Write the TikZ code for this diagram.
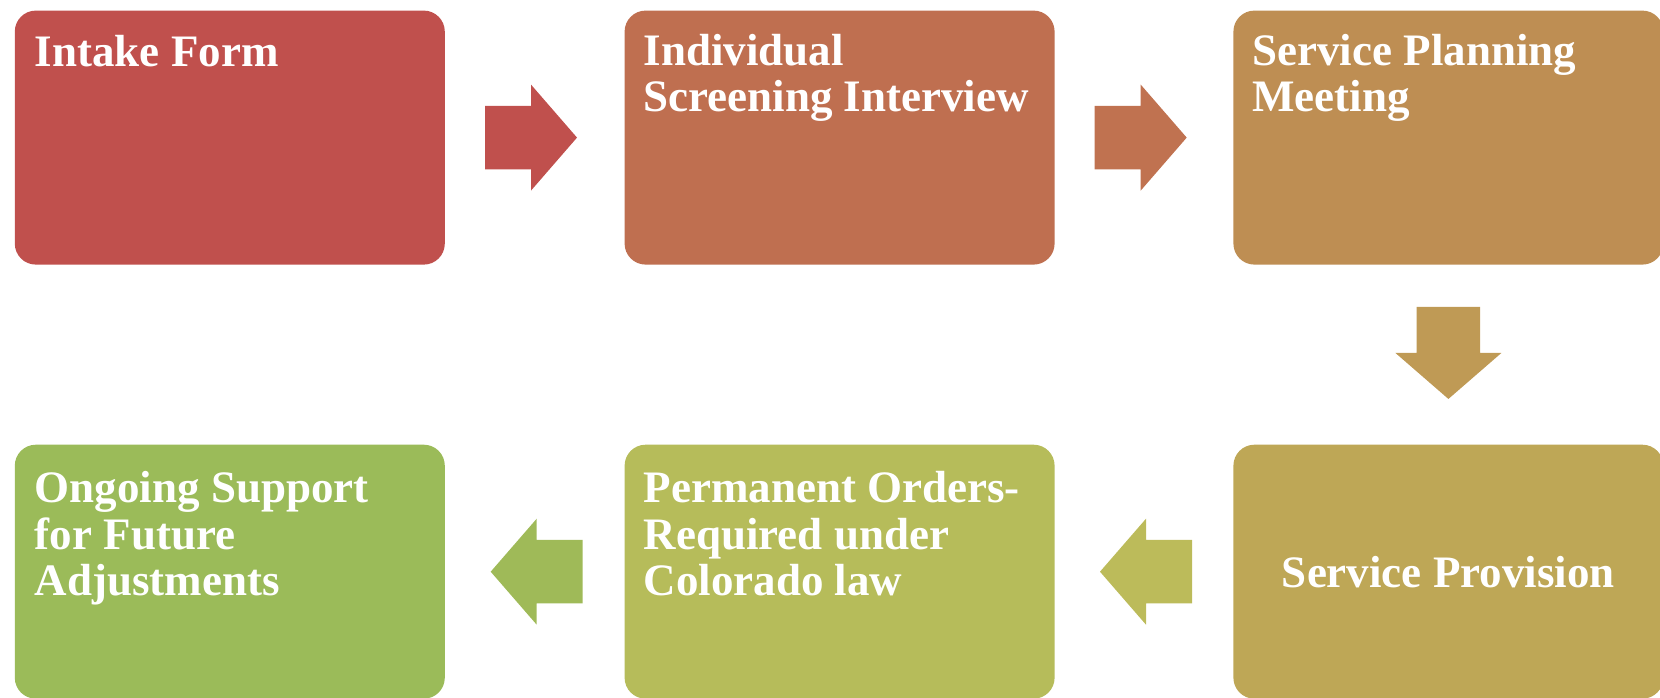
\documentclass[tikz,border=0pt]{standalone}
\usepackage{fontspec}
\setmainfont{Liberation Serif}
\usetikzlibrary{calc}

% step colours, red through ochre to green
\definecolor{c1}{HTML}{C0504D}
\definecolor{c2}{HTML}{BF6F50}
\definecolor{c3}{HTML}{BE8E53}
\definecolor{c4}{HTML}{BEA756}
\definecolor{c5}{HTML}{B6BC5A}
\definecolor{c6}{HTML}{9BBB59}
\definecolor{a1}{HTML}{C0504D}
\definecolor{a2}{HTML}{C07250}
\definecolor{a3}{HTML}{BF9A55}
\definecolor{a4}{HTML}{BCBB5A}
\definecolor{a5}{HTML}{9FBA58}

\tikzset{
  stepbox/.style={rectangle, rounded corners=21pt, minimum width=430pt,
    minimum height=254pt, inner sep=0pt, draw=none},
  steptext/.style={inner sep=0pt, text=white,
    font=\fontsize{45}{46.5}\selectfont\bfseries},
  % block arrow pointing right, centred on its own origin
  blockarrow/.pic={
    \fill[pic actions] (-46,-31.75) -- (0,-31.75) -- (0,-53) -- (46,0)
      -- (0,53) -- (0,31.75) -- (-46,31.75) -- cycle;
  }
}

\newcommand{\steplines}[1]{\parbox[t]{400pt}{\raggedright #1}}

\begin{document}
\begin{tikzpicture}[x=1pt, y=-1pt]
\useasboundingbox (0,0) rectangle (1660,698);
\clip (0,0) rectangle (1660,698);

% boxes
\node[stepbox, fill=c1] (b1) at (229.8,137.6) {};
\node[stepbox, fill=c2] (b2) at (839.6,137.6) {};
\node[stepbox, fill=c3] (b3) at (1448.4,137.6) {};
\node[stepbox, fill=c4] (b4) at (1448.4,571.7) {};
\node[stepbox, fill=c5] (b5) at (839.6,571.7) {};
\node[stepbox, fill=c6] (b6) at (229.8,571.7) {};

% labels
\node[steptext, anchor=base west] (t1) at ($(b1.north west)+(20,56)$)
  {\steplines{Intake Form}};
\node[steptext, anchor=base west] (t2) at ($(b2.north west)+(19,55)$)
  {\steplines{Individual\\Screening Interview}};
\node[steptext, anchor=base west] (t3) at ($(b3.north west)+(19,55)$)
  {\steplines{Service Planning\\Meeting}};
\node[steptext, anchor=base] (t4) at ($(b4.center)+(0,15.5)$)
  {Service Provision};
\node[steptext, anchor=base west] (t5) at ($(b5.north west)+(19,58)$)
  {\steplines{Permanent Orders-\\Required under\\Colorado law}};
\node[steptext, anchor=base west] (t6) at ($(b6.north west)+(20,58)$)
  {\steplines{Ongoing Support\\for Future\\Adjustments}};

% block arrows between consecutive steps
\coordinate (m12) at ($($(b1.east)!0.5!(b2.west)$)+(-3.7,0)$);
\coordinate (m23) at ($($(b2.east)!0.5!(b3.west)$)+(-3.3,0)$);
\coordinate (m34) at ($($(b3.south)!0.5!(b4.north)$)+(0,-1.7)$);
\coordinate (m45) at ($($(b5.east)!0.5!(b4.west)$)+(2,0)$);
\coordinate (m56) at ($($(b6.east)!0.5!(b5.west)$)+(2,0)$);

\pic[fill=a1] at (m12) {blockarrow};
\pic[fill=a2] at (m23) {blockarrow};
\pic[fill=a3, rotate=-90] at (m34) {blockarrow};
\pic[fill=a4, rotate=180] at (m45) {blockarrow};
\pic[fill=a5, rotate=180] at (m56) {blockarrow};
\end{tikzpicture}
\end{document}
